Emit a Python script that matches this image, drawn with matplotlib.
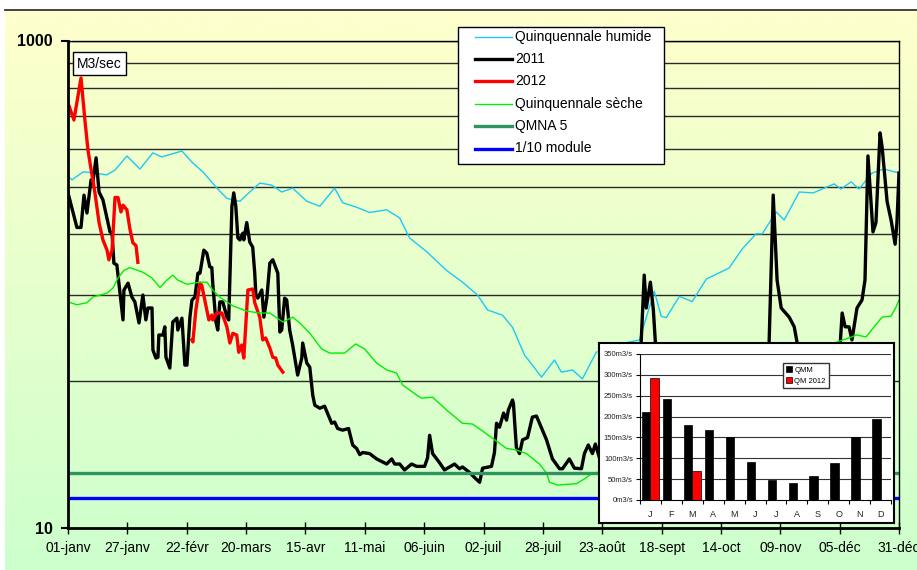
import numpy as np
import matplotlib.pyplot as plt
from matplotlib.lines import Line2D
from matplotlib.patches import Rectangle

plt.rcParams['font.family'] = ['Liberation Sans', 'DejaVu Sans']

# =====================
# 1. Data (day of year from 01-janv, flow in m3/s)
# =====================
humide_days = [0, 1.75, 6.6, 10.5, 17, 20.6, 25.8, 31.5, 37.2, 41.1, 49.9, 54.7, 59.1, 65.2, 69.6,
               75.3, 79.6, 84, 89.3, 93.6, 98.4, 104.6, 110.3, 116.8, 120.3, 126.4, 132.1, 139.6,
               145.3, 149.6, 157.1, 165.8, 172.8, 179.4, 183.8, 190.3, 194.7, 200, 203.4, 207.4,
               213.1, 216.1, 221, 225.3, 231.4, 239.3, 250.3, 256.8, 259.9, 262.1, 267.8, 273.4,
               279.6, 289.6, 295.3, 301.4, 304.1, 310.2, 313.7, 320.3, 326.4, 335.6, 338.6, 343,
               346.5, 352.2, 357.4, 364]
humide_vals = [278, 268, 289, 287, 281, 294, 336, 297, 346, 333, 352, 314, 289, 248, 225,
               219, 239, 260, 255, 239, 248, 219, 209, 248, 216, 207, 197, 202,
               187, 155, 136, 114, 102, 90.3, 78.4, 74.7, 66.6, 51.2, 46.6, 41.6,
               48.9, 43.6, 44.5, 40.9, 52.6, 56.2, 59.1, 93.7, 73.7, 73.0, 89.2, 84.9,
               105, 116.6, 139.5, 161, 161, 198, 183.5, 239, 237, 258, 246, 263,
               246, 286, 297, 286]

y2011_days = [0, 3.9, 5.7, 7, 8.3, 10.1, 10.9, 12.3, 13.6, 15.3, 18.4, 19.3, 20.1, 21.4, 22.8,
              24.1, 24.5, 26.3, 28, 29.3, 31.1, 32.8, 34.1, 35, 36.8, 37.2, 38.5, 39.4, 39.8,
              41.6, 42.4, 42.9, 44.6, 45.9, 47.7, 48.1, 49.9, 51.2, 52.1, 53.4, 54.3, 55.6,
              56.9, 57.8, 58.6, 59.5, 60.8, 62.1, 63, 63.4, 64.8, 65.6, 66.5, 67.8, 69.6, 70.4,
              71.8, 72.6, 73.5, 74.4, 75.3, 76.6, 77, 78.3, 79.6, 80.9, 81.8, 82.3, 83.1, 84.9,
              85.8, 87.1, 88.4, 89.7, 91.9, 92.8, 93.6, 94.9, 95.8, 97.1, 98.4, 100.6, 102.4,
              102.8, 104.6, 105.9, 107.2, 108.1, 110.3, 112.4, 115.5, 116.8, 118.1, 120.3,
              122.9, 124.7, 126.4, 127.8, 129.1, 132.1, 135.2, 139.6, 141.8, 143.1, 145.3,
              147.4, 150.5, 152.7, 156.2, 157.5, 158.4, 159.7, 162.8, 164.9, 169.3, 171.5,
              172.8, 175.9, 178.1, 180.3, 181.6, 185.5, 186.8, 187.7, 189, 190.8, 192.1, 192.9,
              194.7, 195.1, 196.4, 197.8, 199.1, 201.3, 203.4, 205.2, 209.6, 212.2, 215.3,
              216.6, 219.6, 221.8, 224.9, 226.2, 227.9, 229.7, 231, 232.8, 239.3, 245.9, 250.7,
              252.4, 253.3, 255.1, 256.4, 257.3, 261.2, 272.1, 285.3, 298.4, 305.4, 307.1,
              308.9, 310.6, 312.4, 315.9, 318.1, 319.4, 322.4, 326.8, 333.4, 337.8, 339.1,
              340.4, 342.1, 343.4, 345.6, 347.8, 349.1, 350.4, 352.6, 353.9, 355.7, 356.6,
              358.8, 360.5, 362.3, 363.1, 364]
y2011_vals = [237, 171, 171, 232, 196, 268, 263, 330, 239, 222, 164, 162, 122, 120, 92,
              71.4, 94.7, 101, 88.6, 84.6, 69.4, 90.3, 71.4, 79.9, 79.9, 53.7, 49.8, 50.2, 61.9,
              61.9, 66.9, 50.2, 45.3, 70, 72.6, 64.9, 72.6, 46.6, 46.6, 73.3, 86.2, 88.6,
              111, 111, 123, 138, 134, 118, 117, 101, 70, 64.9, 84.6, 84.6, 73.3, 71.4,
              209, 237, 209, 155, 152, 162, 152, 179, 149, 142, 111, 90.3, 87.7, 94.7,
              73.3, 87.7, 122, 126, 111, 63.7, 64.9, 87.7, 86.2, 64.9, 56.3, 42.4, 49.8,
              57.4, 47.5, 45.7, 35.1, 31.9, 31.0, 31.6, 26.9, 27.2, 25.6, 25.2,
              25.6, 21.9, 21.2, 20.0, 20.4, 20.2, 19.2, 18.3, 19.2, 18.3, 18.3,
              17.3, 18.3, 17.9, 17.9, 19.4, 24.0, 20.2, 18.5, 17.3, 18.3, 17.5,
              17.8, 16.9, 16.1, 15.4, 17.6, 17.9, 20.4, 26.9, 25.9, 29.6, 27.7, 30.5,
              33.5, 32.5, 21.4, 20.2, 23.0, 23.5, 28.5, 28.8, 23.0, 19.2, 17.5,
              17.5, 19.2, 17.6, 17.5, 20.2, 21.9, 20.2, 22.1, 19.4, 20.9, 25.2, 48.9,
              109, 79.9, 102, 78.4, 57.4, 36.8, 25.2, 23.0, 25.2, 40.5, 57.4,
              232, 104, 79.9, 73.3, 66.9, 57.4, 33.5, 27.7, 33.5, 48.9, 76.2,
              66.9, 66.9, 59.1, 79.9, 86.2, 104, 336, 164, 179, 418, 366,
              218, 184, 146, 179, 286]

y2012_days = [0, 2.6, 5.7, 7.4, 8.75, 10.5, 11.8, 13.6, 15.3, 17.1, 17.9, 19.3, 20.6, 21.9,
              23.2, 24.1, 25.8, 27.1, 28.4, 29.8, 30.6, 42,
              54.3, 54.7, 56, 57.8, 58.6, 60.8, 61.7, 63, 63.4, 65.2, 67.4, 69.6, 70.9, 72.2,
              73.9, 74.8, 76.1, 77, 78.8, 80.9, 81.8, 84, 85.3, 86.6, 88.4, 89.7, 91, 91.9, 94.1]
y2012_vals = [554, 472, 702, 472, 355, 281, 237, 179, 152, 138, 126, 138, 227, 227,
              198, 211, 202, 169, 148, 144, 123, np.nan,
              59.1, 58, 78.4, 101, 99, 78.4, 71.4, 74.7, 71.4, 76.2, 76.2, 66.9, 57.4, 62.9,
              61.9, 52.6, 56.3, 49.8, 94.7, 95.6, 84.0, 73.3, 59.1, 60.2, 54.8, 50.2, 49.8, 46.6, 43.6]

seche_days = [0, 3.9, 8.3, 10.9, 14, 17.1, 19.7, 21.9, 24.5, 27.1, 32.8, 36.8, 40.3, 43.3, 45.9,
              48.1, 52.1, 57.8, 60.8, 63.4, 66.5, 72.2, 78.3, 84, 88.4, 94.1, 98.4, 101.5,
              105.9, 111.1, 114.6, 121.2, 126, 129.9, 135.2, 139.6, 143.9, 146.6, 152.7, 154.9,
              159.7, 165.8, 172.8, 177.2, 181.1, 185.5, 192.1, 196.4, 200.8, 206.5, 209.6,
              210.9, 214.4, 222.7, 226.2, 229.7, 231.9, 254.6, 276.5, 302.8, 329, 343.4,
              345.2, 349.6, 353.1, 356.6, 360.5, 362.7, 364]
seche_vals = [84.6, 82.4, 84, 88.6, 90.3, 92, 96.5, 106, 114, 117, 112, 106, 97, 104, 109,
              104, 100, 102, 102, 94.7, 88.6, 81.5, 77.6, 76.2, 76.2, 70, 73.3, 69.4,
              63, 54.3, 52.2, 52.2, 56.9, 54.3, 47.5, 44.5, 43.2, 38.6, 35.1, 34.1,
              34.4, 30.5, 26.9, 26.7, 25.2, 23.5, 21.2, 20.9, 20.2, 18.3, 16.8,
              15.4, 15.0, 15.2, 15.9, 16.8, 16.9, 23, 33.5, 44.5, 54.8, 60.8,
              62, 60.8, 66.9, 73.3, 74, 80.6, 86.2]

qmna5 = 16.8
module_10 = 13.3
grid_vals = [40, 90, 160, 250, 360, 490, 640, 810, 1000]

tick_labels = ['01-janv', '27-janv', '22-févr', '20-mars', '15-avr', '11-mai', '06-juin',
               '02-juil', '28-juil', '23-août', '18-sept', '14-oct', '09-nov', '05-déc', '31-déc']

months = ['J', 'F', 'M', 'A', 'M', 'J', 'J', 'A', 'S', 'O', 'N', 'D']
qmm = [212, 242, 180, 168, 151, 91, 49, 40, 57, 89, 151, 195]
qm2012 = [292, np.nan, 69, np.nan, np.nan, np.nan, np.nan, np.nan, np.nan, np.nan, np.nan, np.nan]

# =====================
# 2. Figure + background
# =====================
W, H = 917, 570
fig = plt.figure(figsize=(W / 100, H / 100), dpi=100)

bg = fig.add_axes([5 / W, 0, 1 - 5 / W, 1 - 10 / H], zorder=-10)
t = np.linspace(0, 1, 256)[:, None]
top_c = np.array([1.0, 1.0, 0.80])
bot_c = np.array([0.80, 1.0, 0.80])
img = top_c[None, None, :] * (1 - t[..., None]) + bot_c[None, None, :] * t[..., None]
bg.imshow(img, aspect='auto', extent=[0, 1, 0, 1])
bg.axis('off')
fig.add_artist(Line2D([5 / W, 1], [1 - 10 / H, 1 - 10 / H], transform=fig.transFigure,
                      color='#222222', lw=1.2))

# =====================
# 3. Main chart
# =====================
ax = fig.add_axes([68 / W, 1 - 528 / H, (899 - 68) / W, (528 - 40.5) / H], zorder=1)
ax.set_facecolor('none')
ax.set_yscale('log')
ax.set_ylim(10, 1000)
ax.set_xlim(0, 364)

for g in grid_vals:
    ax.axhline(g, color='#2a2a2a', lw=1, zorder=1)

ax.plot(humide_days, humide_vals, color='#1EC8F5', lw=1, label='Quinquennale humide', zorder=3)
ax.plot(y2011_days, y2011_vals, color='black', lw=2.4, label='2011', zorder=4)
ax.plot(y2012_days, y2012_vals, color='#FF0000', lw=2.4, label='2012', zorder=5)
ax.plot(seche_days, seche_vals, color='#00EE00', lw=1, label='Quinquennale sèche', zorder=6)
ax.axhline(qmna5, color='#2E9460', lw=2.4, label='QMNA 5', zorder=6)
ax.axhline(module_10, color='#0000FF', lw=2.4, label='1/10 module', zorder=6)

ax.set_yticks([10, 1000])
ax.set_yticklabels(['10', '1000'], fontsize=11.5, fontweight='bold')
ax.yaxis.set_minor_locator(plt.NullLocator())
ax.tick_params(axis='y', direction='out', length=5, width=1.5, pad=6)

ax.set_xticks(np.arange(0, 365, 26))
ax.set_xticklabels(tick_labels, fontsize=10)
ax.tick_params(axis='x', direction='inout', length=9, width=1, pad=5)

ax.spines['left'].set_linewidth(2)
ax.spines['bottom'].set_linewidth(2)
ax.spines['right'].set_linewidth(1)
ax.spines['top'].set_linewidth(1)
for s in ax.spines.values():
    s.set_zorder(7)

fig.text(99.5 / W, 1 - 63.5 / H, 'M3/sec', fontsize=10, ha='center', va='center',
         bbox=dict(boxstyle='square,pad=0.3', fc='white', ec='black', lw=1))

# legend box drawn by hand so its padding matches the original
fig.add_artist(Rectangle((458 / W, 1 - 164 / H), (664 - 458) / W, (164 - 27) / H,
                         transform=fig.transFigure, fc='white', ec='black', lw=1, zorder=10))
handles, labels = ax.get_legend_handles_labels()
for i, (h, lab) in enumerate(zip(handles, labels)):
    yy = 1 - (36.5 + i * 22.4) / H
    fig.add_artist(Line2D([475 / W, 512 / W], [yy, yy], transform=fig.transFigure,
                          color=h.get_color(), lw=h.get_linewidth(), zorder=11))
    fig.text(515 / W, yy, lab, fontsize=10, ha='left', va='center', zorder=11)

# =====================
# 4. Inset bar chart
# =====================
box = fig.add_axes([599 / W, 1 - 523 / H, (894 - 599) / W, (523 - 343) / H], zorder=5)
box.set_xticks([])
box.set_yticks([])
box.set_facecolor('white')
for s in box.spines.values():
    s.set_linewidth(1.5)

ins = fig.add_axes([640 / W, 1 - 500 / H, (891 - 640) / W, (500 - 354) / H], zorder=6)
ins.set_facecolor('none')
x = np.arange(len(months))
ins.bar(x - 0.2, qmm, width=0.4, color='black', edgecolor='black', lw=0.5, label='QMM', zorder=3)
ins.bar(x + 0.2, qm2012, width=0.4, color='#FF0000', edgecolor='black', lw=0.5, label='QM 2012', zorder=3)
ins.set_xlim(-0.5, 11.5)
ins.set_ylim(0, 350)
ins.set_yticks(np.arange(0, 351, 50))
ins.set_yticklabels([f'{v}m3/s' for v in np.arange(0, 351, 50)], fontsize=5.5, color='#222222')
for v in np.arange(50, 351, 50):
    ins.axhline(v, color='#333333', lw=0.8, zorder=1)
ins.set_xticks(x)
ins.set_xticklabels(months, fontsize=6.5, color='#222222')
ins.set_xticks(np.arange(-0.5, 12, 1), minor=True)
ins.tick_params(axis='x', which='major', length=0, pad=7)
ins.tick_params(axis='x', which='minor', direction='out', length=3, width=0.8)
ins.tick_params(axis='y', direction='out', length=3, width=0.8, pad=2)
ins.spines['top'].set_visible(False)
ins.spines['right'].set_visible(False)
ins.spines['left'].set_linewidth(0.8)
ins.spines['bottom'].set_linewidth(0.8)

ileg = ins.legend(loc='upper left', bbox_to_anchor=(783 / W, 1 - 363 / H), bbox_transform=fig.transFigure,
                  fontsize=5.5, frameon=True, fancybox=False, framealpha=1, edgecolor='#333333',
                  handlelength=0.8, handleheight=0.8, handletextpad=0.3, labelspacing=0.5,
                  borderpad=0.4, borderaxespad=0)
ileg.get_frame().set_linewidth(1)

fig.savefig('out.png', dpi=100)
